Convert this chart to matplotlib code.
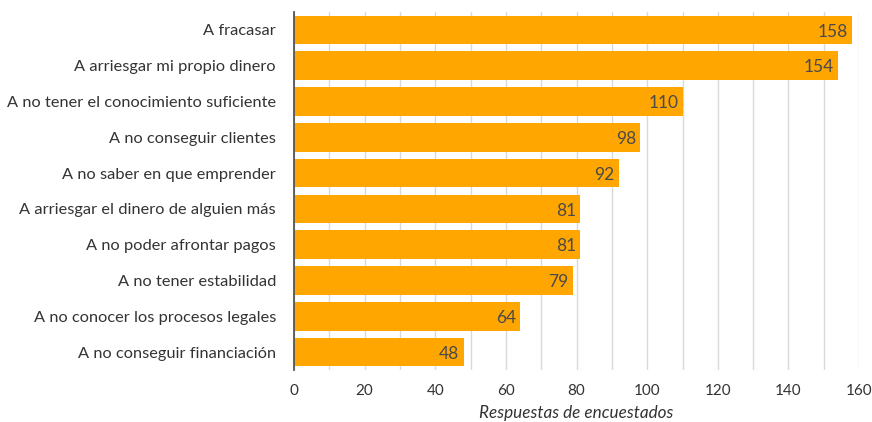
import matplotlib
matplotlib.use("Agg")
import matplotlib.pyplot as plt
from matplotlib.ticker import MultipleLocator

categories = [
    "A fracasar",
    "A arriesgar mi propio dinero",
    "A no tener el conocimiento suficiente",
    "A no conseguir clientes",
    "A no saber en que emprender",
    "A arriesgar el dinero de alguien más",
    "A no poder afrontar pagos",
    "A no tener estabilidad",
    "A no conocer los procesos legales",
    "A no conseguir financiación",
]
values = [158, 154, 110, 98, 92, 81, 81, 79, 64, 48]
x_ticks = [0, 20, 40, 60, 80, 100, 120, 140, 160]

plt.rcParams["font.family"] = ["Lato", "DejaVu Sans"]

fig = plt.figure(figsize=(8.72, 4.22), dpi=100)
ax = fig.add_axes([0.3372, 0.1232, 0.648, 0.8484])

pos = list(range(len(categories)))
ax.barh(pos, values, height=0.8, color="#FFA600", zorder=2)
for p, v in zip(pos, values):
    ax.text(v - 1.2, p + 0.05, str(v), ha="right", va="center",
            fontsize=12.5, color="#4a4a4a", zorder=3)

ax.set_ylim(len(categories) - 0.5, -0.5)
ax.set_xlim(0, 160)
ax.set_yticks(pos)
ax.set_yticklabels(categories, fontsize=11.8, color="#333333")
ax.set_xticks(x_ticks)
ax.set_xticklabels([str(t) for t in x_ticks], fontsize=11, color="#333333")
ax.xaxis.set_minor_locator(MultipleLocator(10))
ax.grid(axis="x", which="both", color="#d9d9d9", linewidth=1, zorder=0)
ax.tick_params(axis="both", which="both", length=0)
ax.tick_params(axis="y", pad=13)
ax.tick_params(axis="x", pad=10)

for s in ["top", "right", "bottom"]:
    ax.spines[s].set_visible(False)
ax.spines["left"].set_color("#555555")
ax.spines["left"].set_linewidth(1.3)

ax.set_xlabel("Respuestas de encuestados", fontsize=12.3, style="italic",
              color="#333333", labelpad=5)

fig.savefig("out.png", dpi=100, facecolor="white")
